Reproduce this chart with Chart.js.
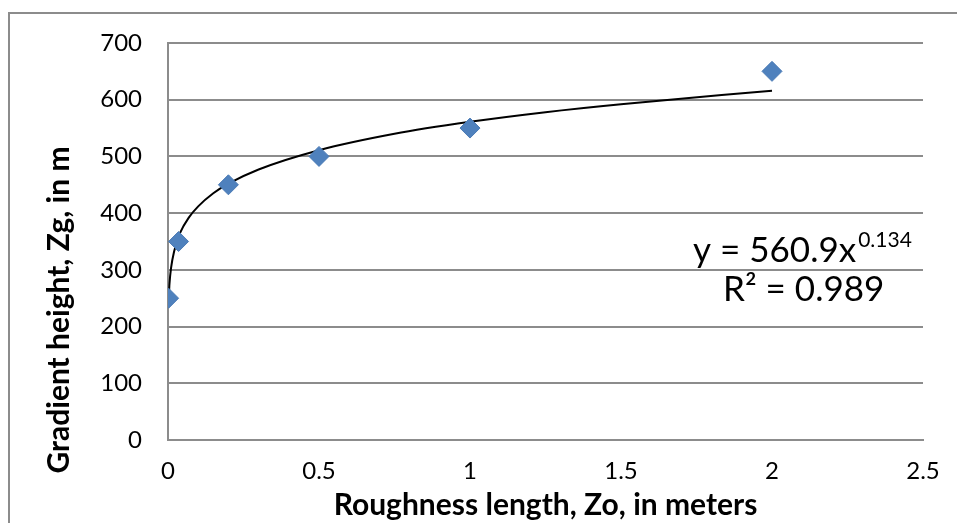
<!DOCTYPE html>
<html>
<head>
<meta charset="utf-8">
<script src="https://cdn.jsdelivr.net/npm/chart.js@4"></script>
<style>
  html, body { margin: 0; padding: 0; background: #fff; }
  #wrap { width: 957px; height: 523px; }
</style>
</head>
<body>
<div id="wrap"><canvas id="gradientChart"></canvas></div>
<script>
// measured points
let roughness = [0.002, 0.035, 0.2, 0.5, 1, 2];
let gradientHeight = [250, 350, 450, 500, 550, 650];

// power trendline
let trendX = [0.002, 0.005, 0.01, 0.02, 0.04, 0.07, 0.1, 0.15, 0.2, 0.3, 0.5, 0.75, 1, 1.25, 1.5, 2];
let trendY = [244, 276, 303, 332, 365, 393, 412, 435, 452, 477, 511, 540, 561, 578, 592, 616];

let xTicks = [0, 0.5, 1, 1.5, 2, 2.5];
let yTicks = [0, 100, 200, 300, 400, 500, 600, 700];

let gridGray = "#8c8c8c";

// outer frame, y title (sits lower than centre) and the trendline equation
let framePlugin = {
    id: "frame",
    beforeDraw(chart) {
        let c = chart.ctx;
        c.save();
        c.strokeStyle = "#8c8c8c";
        c.lineWidth = 2;
        c.beginPath();
        c.moveTo(9, 523);
        c.lineTo(9, 13);
        c.lineTo(957, 13);
        c.stroke();
        c.restore();
    },
    afterDraw(chart) {
        let c = chart.ctx;
        c.save();
        c.fillStyle = "#000";
        c.textBaseline = "alphabetic";

        c.save();
        c.translate(69, 310);
        c.rotate(-Math.PI / 2);
        c.textAlign = "center";
        c.font = "bold 30px Lato";
        c.fillText("Gradient height, Zg, in m", 0, 0);
        c.restore();

        c.textAlign = "left";
        c.font = "35px Lato";
        let main = "y = 560.9x";
        c.fillText(main, 693, 262);
        let w = c.measureText(main).width;
        c.font = "21px Lato";
        c.fillText("0.134", 693 + w + 2, 247);
        c.font = "35px Lato";
        c.fillText("R\u00b2 = 0.989", 723, 301);
        c.restore();
    },
};

let ctx = document.getElementById("gradientChart").getContext("2d");
let chart = new Chart(ctx, {
    type: "scatter",
    data: {
        datasets: [
            {
                label: "Zg",
                data: roughness.map((x, i) => ({ x: x, y: gradientHeight[i] })),
                pointStyle: "rectRot",
                pointRadius: 10,
                pointBackgroundColor: "#4f81bd",
                pointBorderColor: "#4a7ab5",
                pointBorderWidth: 1,
                order: 1,
            },
            {
                label: "Power trend",
                data: trendX.map((x, i) => ({ x: x, y: trendY[i] })),
                showLine: true,
                borderColor: "#000",
                borderWidth: 2,
                pointRadius: 0,
                cubicInterpolationMode: "monotone",
                order: 2,
            },
        ],
    },
    options: {
        responsive: true,
        maintainAspectRatio: false,
        animation: false,
        layout: {
            padding: { top: 43, right: 34, left: 0, bottom: 0 },
        },
        plugins: {
            legend: { display: false },
            tooltip: { enabled: false },
        },
        scales: {
            x: {
                type: "linear",
                min: 0,
                max: 2.5,
                afterBuildTicks: (s) => { s.ticks = xTicks.map((v) => ({ value: v })); },
                afterFit: (s) => { s.height = 83; },
                ticks: {
                    color: "#000",
                    padding: 17,
                    font: { family: "Lato", size: 24 },
                    callback: (v) => String(v),
                },
                grid: { display: false, drawTicks: false },
                border: { display: true, color: gridGray, width: 2 },
                title: {
                    display: true,
                    text: "Roughness length, Zo, in meters",
                    color: "#000",
                    font: { family: "Lato", size: 30, weight: "bold" },
                    padding: { top: 0, bottom: 0 },
                },
            },
            y: {
                min: 0,
                max: 700,
                afterBuildTicks: (s) => { s.ticks = yTicks.map((v) => ({ value: v })); },
                afterFit: (s) => { s.width = 168; },
                ticks: {
                    color: "#000",
                    padding: 26,
                    font: { family: "Lato", size: 24 },
                },
                grid: { color: gridGray, lineWidth: 2, drawTicks: false },
                border: { display: true, color: gridGray, width: 2 },
            },
        },
    },
    plugins: [framePlugin],
});
</script>
</body>
</html>
